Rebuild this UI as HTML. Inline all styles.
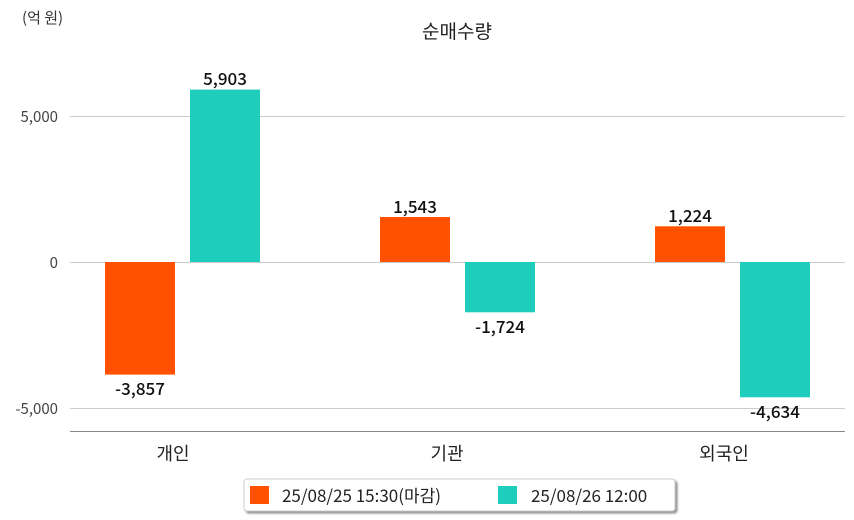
<!DOCTYPE html>
<html><head><meta charset="utf-8"><style>
body{margin:0;background:#fff;}
svg{display:block;font-family:"Noto Sans CJK KR","Liberation Sans",sans-serif;}
</style></head><body>
<svg width="854" height="520" xmlns="http://www.w3.org/2000/svg">
<defs><filter id="sh" x="-5%" y="-20%" width="110%" height="150%"><feDropShadow dx="2" dy="2" stdDeviation="1" flood-color="#000" flood-opacity="0.45"/></filter></defs>
<text x="22" y="23" font-size="15" fill="#333">(억 원)</text>
<text x="457" y="38" font-size="19" fill="#222" text-anchor="middle">순매수량</text>
<g stroke="#ccc" stroke-width="1">
<line x1="70" y1="116.5" x2="845" y2="116.5"/>
<line x1="70" y1="262.5" x2="845" y2="262.5"/>
<line x1="70" y1="408.5" x2="845" y2="408.5"/>
</g>
<g font-size="15" fill="#444" text-anchor="end">
<text x="58" y="122">5,000</text>
<text x="58" y="268">0</text>
<text x="58" y="414">-5,000</text>
</g>
<line x1="70" y1="431.5" x2="845" y2="431.5" stroke="#888" stroke-width="1"/>
<rect x="105" y="262" width="70" height="112.6" fill="#ff5100"/>
<rect x="190" y="89.6" width="70" height="172.4" fill="#1ecdbb"/>
<rect x="380" y="217" width="70" height="45" fill="#ff5100"/>
<rect x="465" y="262" width="70" height="50.3" fill="#1ecdbb"/>
<rect x="655" y="226.3" width="70" height="35.7" fill="#ff5100"/>
<rect x="740" y="262" width="70" height="135.3" fill="#1ecdbb"/>
<g font-size="17" font-weight="500" fill="#111" text-anchor="middle">
<text x="140" y="395">-3,857</text>
<text x="225" y="85">5,903</text>
<text x="415" y="213">1,543</text>
<text x="500" y="333">-1,724</text>
<text x="690" y="222">1,224</text>
<text x="775" y="418">-4,634</text>
</g>
<g font-size="18" fill="#222" text-anchor="middle">
<text x="173" y="460">개인</text>
<text x="447" y="460">기관</text>
<text x="724" y="460">외국인</text>
</g>
<rect x="244" y="479" width="431" height="32" rx="3" fill="#fff" stroke="#ccc" filter="url(#sh)"/>
<rect x="250" y="486" width="19" height="18" fill="#ff5100"/>
<text x="282" y="502" font-size="17" fill="#222">25/08/25 15:30(마감)</text>
<rect x="498" y="486" width="19" height="18" fill="#1ecdbb"/>
<text x="531" y="502" font-size="17" fill="#222">25/08/26 12:00</text>
</svg>
</body></html>
